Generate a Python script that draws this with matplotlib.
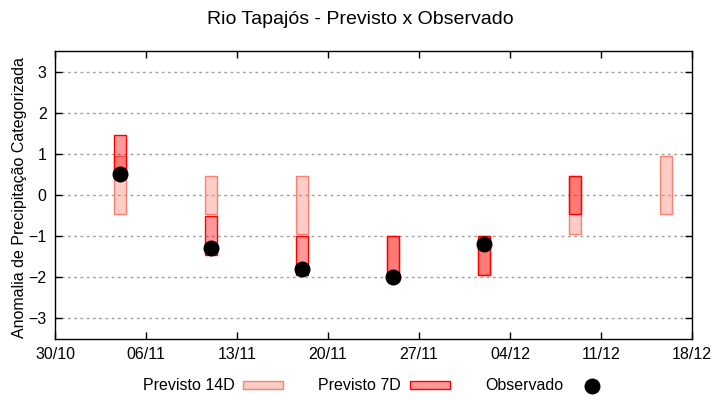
import datetime as dt
import numpy as np
import matplotlib
matplotlib.use("Agg")
import matplotlib.pyplot as plt
import matplotlib.dates as mdates

plt.rcParams['font.family'] = ['Liberation Sans', 'DejaVu Sans']

# ---- data ----
dates = ["2023-11-04", "2023-11-11", "2023-11-18", "2023-11-25",
         "2023-12-02", "2023-12-09", "2023-12-16"]
p14_low = [-0.45, -0.45, -0.95, -2.0, -1.95, -0.95, -0.45]
p14_high = [0.95, 0.45, 0.45, -1.0, -1.0, 0.45, 0.95]
p7_low = [0.45, -1.45, -1.95, -2.0, -1.95, -0.45, np.nan]
p7_high = [1.45, -0.5, -1.0, -1.0, -1.0, 0.45, np.nan]
observado = [0.5, -1.3, -1.8, -2.0, -1.2, np.nan, np.nan]
tick_dates = ["2023-10-30", "2023-11-06", "2023-11-13", "2023-11-20",
              "2023-11-27", "2023-12-04", "2023-12-11", "2023-12-18"]
yticks = [-3, -2, -1, 0, 1, 2, 3]

title = "Rio Tapajós - Previsto x Observado"
ylabel = "Anomalia de Precipitação Categorizada"

# ---- plot ----
x = np.array([dt.datetime.strptime(d, "%Y-%m-%d") for d in dates])
lo14, hi14 = np.array(p14_low), np.array(p14_high)
lo7, hi7 = np.array(p7_low), np.array(p7_high)
obs = np.array(observado)

fig = plt.figure(figsize=(7.2, 4.0), dpi=100)
ax = fig.add_axes([55/720, 1-339/400, (692-55)/720, (339-51)/400])

m14 = ~np.isnan(lo14)
b14 = ax.bar(x[m14], hi14[m14]-lo14[m14], bottom=lo14[m14], width=0.95,
             color=(250/255, 128/255, 114/255, 0.4), edgecolor='salmon',
             linewidth=1.0, label="Previsto 14D", zorder=2)
m7 = ~np.isnan(lo7)
b7 = ax.bar(x[m7], hi7[m7]-lo7[m7], bottom=lo7[m7], width=0.95,
            color=(1, 0, 0, 0.4), edgecolor='red',
            linewidth=1.0, label="Previsto 7D", zorder=3)
mo = ~np.isnan(obs)
pts, = ax.plot(x[mo], obs[mo], 'o', color='black', markersize=10.5,
               linestyle='none', label="Observado", zorder=4)

ticks = [dt.datetime.strptime(d, "%Y-%m-%d") for d in tick_dates]
ax.set_xlim(ticks[0], ticks[-1])
ax.set_xticks(ticks)
ax.xaxis.set_major_formatter(mdates.DateFormatter('%d/%m'))
ax.set_ylim(-3.5, 3.5)
ax.set_yticks(yticks)

ax.tick_params(direction='in', top=True, right=True, length=5, width=1,
               labelsize=11.5, pad=6, colors='black')
for s in ax.spines.values():
    s.set_linewidth(1.0)
    s.set_color('black')
ax.yaxis.grid(True, color='#a0a0a0', linestyle=(0, (2, 2.5)), linewidth=1.0)
ax.set_axisbelow(True)

ax.set_ylabel(ylabel, fontsize=11.5)
ax.yaxis.set_label_coords(-0.044, 0.49)

fig.suptitle(title, fontsize=14, y=1-20/400, va='center')

fig.legend(handles=[b14, b7, pts], labels=["Previsto 14D", "Previsto 7D", "Observado"],
           loc='center', bbox_to_anchor=(0.524, 0.035), ncol=3, frameon=False,
           markerfirst=False, fontsize=11.5, handlelength=2.5, handleheight=0.4,
           handletextpad=0.56, columnspacing=2.2, borderpad=0)

fig.savefig("out.png", dpi=100)
